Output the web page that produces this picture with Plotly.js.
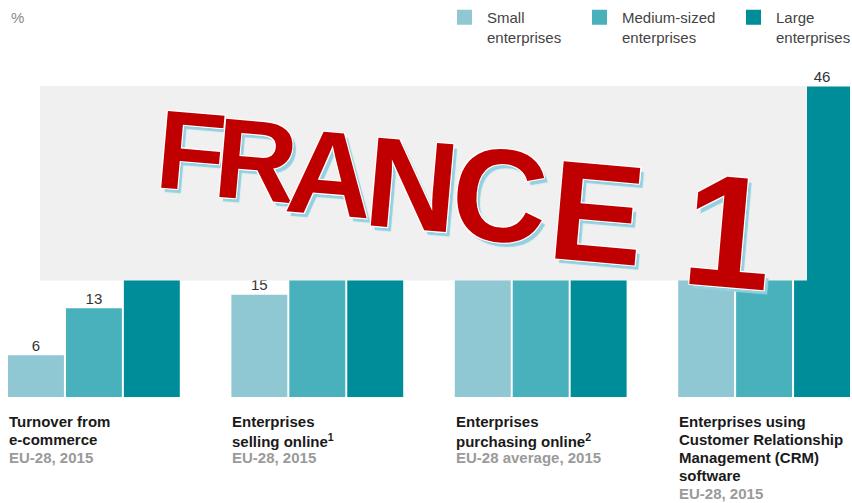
<!DOCTYPE html>
<html>
<head>
<meta charset="utf-8">
<script src="https://cdn.plot.ly/plotly-3.0.1.min.js"></script>
<style>html,body{margin:0;padding:0;background:#fff;}#chart{width:852px;height:503px;}</style>
</head>
<body>
<div id="chart"></div>
<script>
// ---- data ----
const groupPositions = [0, 1, 2, 3];
const categoryLines = [
  ["Turnover from", "e-commerce"],
  ["Enterprises", "selling online<sup>1</sup>"],
  ["Enterprises", "purchasing online<sup>2</sup>"],
  ["Enterprises using", "Customer Relationship", "Management (CRM)", "software"]
];
const subtitles = ["EU-28, 2015", "EU-28, 2015", "EU-28 average, 2015", "EU-28, 2015"];
const seriesNames = ["Small<br>enterprises", "Medium-sized<br>enterprises", "Large<br>enterprises"];
const smallValues  = [6, 15, 36, 29];
const mediumValues = [13, 26, 40, 38];
const largeValues  = [24, 41, 42, 46];
const overlayLetters = ["F", "R", "A", "N", "C", "E", "1"];
const unitLabel = "%";

// ---- styling / layout helpers ----
const colors = ["#8fc8d3", "#48b1bb", "#008d9a"];
const W = 852, H = 503;
const M = {l: 7, r: 1, t: 50, b: 106, autoexpand: false};
const plotW = W - M.l - M.r, plotH = H - M.t - M.b;
const px = x => (x - M.l) / plotW;
const py = y => (H - M.b - y) / plotH;

const allSeries = [smallValues, mediumValues, largeValues];
const legendWidths = [85, 104, 76];
const traces = allSeries.map((vals, i) => ({
  type: "bar",
  x: groupPositions,
  y: vals,
  name: seriesNames[i],
  legendwidth: legendWidths[i],
  marker: {color: colors[i], line: {color: colors[i], width: 3}},
  text: vals.map(String),
  textposition: "outside",
  textfont: {family: "Liberation Sans, Arial, sans-serif", size: 15, color: "#333"},
  cliponaxis: false,
  hoverinfo: "skip"
}));

const annotations = [];
annotations.push({
  xref: "paper", yref: "paper", x: px(9), y: py(18), xanchor: "left", yanchor: "middle",
  text: unitLabel, showarrow: false,
  font: {family: "Liberation Sans, Arial, sans-serif", size: 15, color: "#8a8a8a"}
});
categoryLines.forEach((lines, i) => {
  const all = lines.concat([subtitles[i]]);
  all.forEach((line, k) => {
    const isSub = k === all.length - 1;
    annotations.push({
      xref: "x", yref: "paper", x: groupPositions[i] - 0.389, y: 0,
      xanchor: "left", yanchor: "top", yshift: -(14 + 18 * k),
      text: "<b>" + line + "</b>", showarrow: false, align: "left",
      font: {family: "Liberation Sans, Arial, sans-serif", size: 15, color: isSub ? "#9a9a9a" : "#1a1a1a"}
    });
  });
});
// overlay letters (cap centres in px, size in px)
const letterPos = [
  [191, 151, 112], [256, 160, 114], [330, 173, 120], [412, 184, 128],
  [500, 195, 132], [597, 212, 142], [728, 231, 160]
];
overlayLetters.forEach((ch, i) => {
  const p = letterPos[i];
  annotations.push({
    xref: "paper", yref: "paper", x: px(p[0]), y: py(p[1]),
    xanchor: "center", yanchor: "middle", textangle: 5,
    text: "<b>" + ch + "</b>", showarrow: false,
    font: {
      family: "Liberation Sans, Arial, sans-serif", size: p[2], color: "#c00000",
      shadow: "1px 1px 0 #fff, -1px -1px 0 #fff, 1px -1px 0 #fff, -1px 1px 0 #fff, 4px 4px 1px #93d0e0"
    }
  });
});

const layout = {
  width: W, height: H,
  margin: M,
  paper_bgcolor: "#fff", plot_bgcolor: "#fff",
  barmode: "group",
  bargap: 0.222,
  bargroupgap: 0.086,
  showlegend: true,
  legend: {
    orientation: "h", x: px(442), xanchor: "left", y: py(1), yanchor: "top",
    valign: "top", traceorder: "normal", itemwidth: 35,
    font: {family: "Liberation Sans, Arial, sans-serif", size: 15, color: "#444"},
    bgcolor: "rgba(0,0,0,0)"
  },
  xaxis: {range: [-0.389, 3.389], showgrid: false, zeroline: false, showticklabels: false, ticks: "", fixedrange: true},
  yaxis: {range: [0, plotH / 6.72], showgrid: false, zeroline: false, showticklabels: false, ticks: "", fixedrange: true},
  shapes: [{
    type: "rect", xref: "paper", yref: "paper", layer: "above",
    x0: px(40), x1: px(807), y0: py(280.5), y1: py(86),
    fillcolor: "#f0f0f0", line: {width: 0}
  }],
  annotations: annotations
};

Plotly.newPlot("chart", traces, layout, {displayModeBar: false, staticPlot: true});
</script>
</body>
</html>
